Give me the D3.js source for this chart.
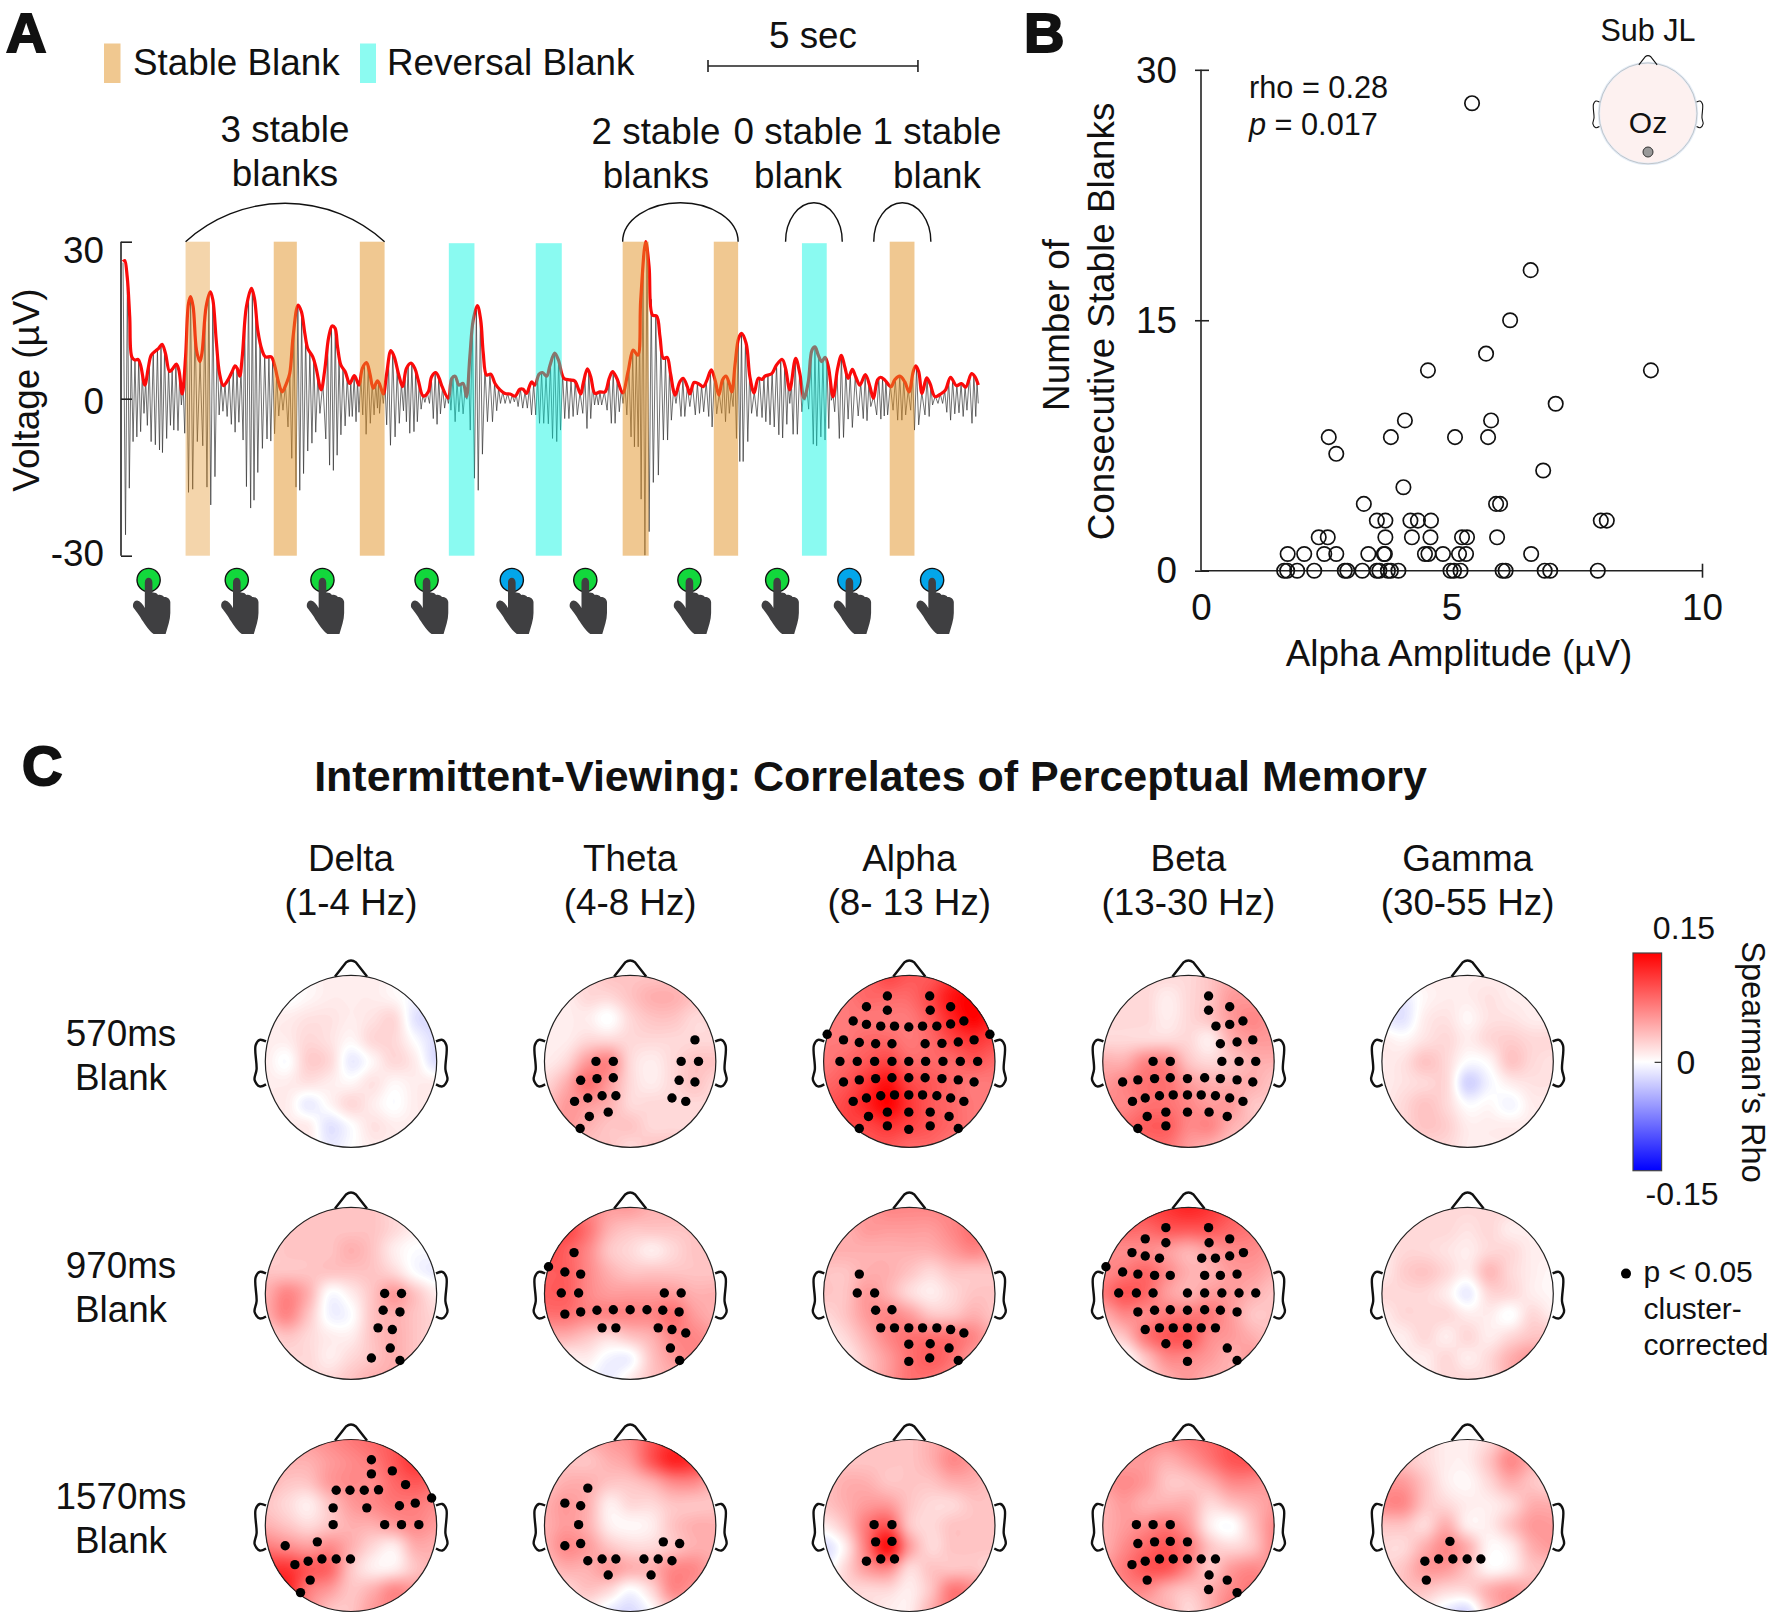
<!DOCTYPE html>
<html><head><meta charset="utf-8">
<script src="https://cdn.jsdelivr.net/npm/d3@7"></script>
<style>
html,body{margin:0;padding:0;background:#fff}
svg{display:block}
text{font-family:"Liberation Sans",Arial,sans-serif;fill:#111}
</style></head><body>
<svg id="fig" width="1770" height="1615" viewBox="0 0 1770 1615"></svg>
<script>
// ---------- Panel A data ----------
// red amplitude envelope: [seconds, microvolts]
const envelope = [[0,26.2],[.04,26.4],[.1,23.3],[.16,15.7],[.21,8],[.28,7.4],[.36,7.5],[.42,6.4],[.52,2.6],[.6,5.8],[.67,8.3],[.77,9.1],[.85,9.6],[.93,10.4],[1.01,8.7],[1.11,5.2],[1.19,5.8],[1.27,6.6],[1.33,5.5],[1.41,.9],[1.49,8],[1.56,18.2],[1.61,19.5],[1.67,17.6],[1.75,9.3],[1.83,7.1],[1.88,8.7],[1.98,17.6],[2.08,20.4],[2.14,18.9],[2.22,11.2],[2.3,4.8],[2.39,2.5],[2.5,3.6],[2.6,5.2],[2.67,6.3],[2.72,5.8],[2.78,4.3],[2.84,8],[2.94,17.6],[3.06,21.1],[3.13,19.2],[3.21,13.1],[3.31,9.3],[3.39,8],[3.53,8],[3.61,6.4],[3.69,3.6],[3.79,1.3],[3.89,2.9],[3.97,4.8],[4.05,11.8],[4.17,17.9],[4.25,16.6],[4.33,12.5],[4.4,9.6],[4.52,8],[4.6,5.8],[4.72,1.7],[4.8,5.2],[4.9,11.8],[4.98,13.9],[5.05,13.5],[5.11,9.9],[5.19,6.4],[5.29,5.2],[5.4,2.9],[5.51,4.4],[5.62,2.6],[5.7,5.8],[5.8,6.9],[5.88,4.8],[5.96,2],[6.06,3.4],[6.12,2.6],[6.2,.9],[6.28,4.8],[6.38,9.2],[6.46,8],[6.56,4.8],[6.66,2.3],[6.75,5.8],[6.86,6.8],[6.95,5.8],[7.03,3.6],[7.15,.5],[7.27,1.3],[7.35,4.2],[7.45,5],[7.53,3.9],[7.6,2.3],[7.75,.1],[7.83,3.9],[7.91,4.3],[8,2.6],[8.1,2.9],[8.18,.4],[8.26,8],[8.34,15],[8.44,17.8],[8.52,15],[8.58,8.7],[8.66,4.5],[8.76,4.7],[8.86,2.9],[8.98,1.7],[9.1,1],[9.22,.9],[9.34,.5],[9.45,1.8],[9.53,1.8],[9.61,1],[9.73,3.2],[9.81,2.6],[9.91,4.7],[9.99,5],[10.09,4.3],[10.17,6.4],[10.28,8.7],[10.37,7.4],[10.5,3.9],[10.64,3.6],[10.76,3.4],[10.9,.9],[10.96,2.9],[11.06,5.7],[11.14,4.2],[11.24,1],[11.36,1.3],[11.48,1.3],[11.58,3.9],[11.66,5.2],[11.76,3.9],[11.9,1.1],[12.03,5.2],[12.15,9.3],[12.26,8.3],[12.33,18.9],[12.45,30],[12.53,25.2],[12.61,16],[12.71,15.8],[12.79,11.8],[12.87,7.7],[12.96,7.9],[13.04,4.8],[13.15,.7],[13.26,3.2],[13.34,3.9],[13.44,2.3],[13.5,.9],[13.6,3.1],[13.7,2.9],[13.82,2.3],[13.91,3.6],[14.01,5.5],[14.1,3.6],[14.19,.7],[14.28,3.6],[14.36,4.3],[14.44,2.9],[14.5,1.3],[14.58,6.8],[14.66,11.5],[14.73,12.5],[14.84,10.6],[14.93,4.2],[15.03,1.1],[15.13,3.9],[15.22,3.7],[15.29,4.3],[15.45,4.8],[15.56,6.4],[15.7,7.5],[15.78,5.8],[15.88,1.7],[16.02,7.7],[16.12,4.8],[16.22,.1],[16.32,3.2],[16.41,9.3],[16.48,9.9],[16.56,8.3],[16.64,7.1],[16.72,7.9],[16.8,6.1],[16.91,.4],[17.02,5.8],[17.11,8.3],[17.19,6.1],[17.27,3.9],[17.37,5.6],[17.45,4.2],[17.55,2.6],[17.68,4.6],[17.79,2.3],[17.87,.1],[17.97,3.6],[18.04,4.1],[18.14,3.6],[18.29,2.3],[18.38,3.6],[18.5,4.3],[18.62,3.2],[18.72,1.3],[18.82,5.2],[18.88,6.3],[18.95,5.2],[19.03,1],[19.14,4],[19.22,2.9],[19.34,.4],[19.49,1],[19.59,1.7],[19.71,4.1],[19.85,2.5],[19.97,2.9],[20.07,2.2],[20.21,4.8],[20.29,4.2],[20.37,2.6]];
// grey alpha trace, cycle by cycle: [trough time, trough µV, following peak µV]
const alphaCycles = [[.06,-26,23.3],[.15,-17.1,9],[.24,-8.2,7.4],[.33,-7.3,7.5],[.42,-6.3,5],[.5,-2.8,3.5],[.58,-5.1,6.5],[.67,-8.2,8.8],[.77,-8.8,9.4],[.87,-9.8,10],[.94,-10.3,9.2],[1.04,-7.6,6],[1.13,-5.1,5.5],[1.21,-6,6.5],[1.31,-6.1,4.5],[1.39,-1.2,3],[1.47,-6.6,12],[1.56,-17.9,19.5],[1.66,-17.3,14],[1.77,-8.2,7.1],[1.9,-9,15],[2,-16.9,20],[2.09,-20.3,19],[2.19,-14.9,10],[2.29,-3.1,3.5],[2.38,-2.4,2.8],[2.48,-3.4,4],[2.58,-4.9,5.5],[2.67,-6.4,6],[2.76,-4.5,5.5],[2.86,-7.9,14],[2.94,-16.8,20],[3.04,-20.9,20.5],[3.12,-19.4,16],[3.21,-14.1,11],[3.32,-9.5,8.3],[3.43,-7.7,8],[3.52,-8.1,7.4],[3.61,-6.7,4.5],[3.71,-3.3,2],[3.81,-2.2,2.6],[3.93,-5.4,4.8],[4.02,-11.4,13],[4.12,-16.9,17.8],[4.21,-17.5,16.6],[4.3,-14.3,12],[4.4,-10,9],[4.5,-8.5,7.5],[4.59,-6.4,4.5],[4.69,-2.8,3],[4.83,-7.7,10],[4.92,-12.7,13.5],[5.01,-13.7,13.5],[5.1,-10.8,8],[5.19,-6.9,5.8],[5.29,-5.2,4.2],[5.39,-3.4,3.2],[5.46,-3.4,4.3],[5.55,-4.4,3.5],[5.62,-2.6,4],[5.71,-3.1,6.5],[5.79,-6.8,6],[5.89,-4.7,3],[5.98,-3.1,2.8],[6.06,-1.8,3.2],[6.11,-2.8,2],[6.2,-.9,2.8],[6.28,-5,7],[6.37,-8.9,9],[6.48,-7.3,5.8],[6.58,-4.7,3],[6.68,-2.3,4.2],[6.75,-4.4,6.5],[6.83,-6.6,6.6],[6.93,-6.3,5.2],[7.01,-4.4,3],[7.1,-2,.8],[7.19,-.7,1.2],[7.3,-.9,3.8],[7.39,-3.8,4.9],[7.48,-4.9,4],[7.56,-2.9,2.2],[7.66,-1.8,.8],[7.75,-.9,1.5],[7.81,-2.2,4.1],[7.91,-4.4,3.5],[8,-2.5,2.8],[8.1,-2.9,1.5],[8.19,-.1,5.5],[8.27,-6,13.5],[8.37,-15.2,17],[8.46,-17.5,15.5],[8.56,-10.6,6],[8.68,-4.4,4.7],[8.8,-4.4,3],[8.9,-2.3,2],[8.99,-.9,1.3],[9.1,-.9,1],[9.22,-.9,.7],[9.32,-.6,.8],[9.41,-1.5,1.8],[9.52,-1.8,1.4],[9.63,-1.8,2.2],[9.73,-3.1,2.8],[9.83,-3.1,3.8],[9.92,-4.7,4.9],[10.02,-4.7,4.5],[10.13,-4.8,6.5],[10.23,-7.6,8.7],[10.33,-8.2,7.4],[10.42,-6,4.8],[10.52,-3.8,3.7],[10.62,-3.8,3.5],[10.72,-3.4,3.3],[10.82,-3.1,1.2],[10.95,-2.8,4.3],[11.05,-5.7,5.2],[11.14,-3.8,2.8],[11.23,-1.2,1],[11.32,-1.2,1.3],[11.4,-1.2,1.3],[11.53,-2.2,3.9],[11.63,-4.7,5.1],[11.72,-4.7,3.8],[11.82,-2.5,1.8],[11.91,-.9,2.5],[12,-3.1,6],[12.1,-7.3,9],[12.18,-9.2,8.8],[12.27,-9.2,14],[12.34,-19.2,24],[12.43,-29.9,29.5],[12.53,-25.4,19],[12.63,-16,15.8],[12.75,-14.6,10.5],[12.87,-7.9,7.8],[12.97,-7.9,5.5],[13.06,-4.1,2],[13.17,-.9,2.6],[13.29,-3.4,3.8],[13.38,-3.4,2.3],[13.5,-1.5,2.5],[13.63,-3.1,2.9],[13.73,-2.8,2.5],[13.83,-2.5,3.2],[13.95,-3.4,5.2],[14.03,-5.4,4.2],[14.14,-2.9,1],[14.26,-2.8,3.8],[14.35,-4.4,3.8],[14.44,-2.8,1.5],[14.53,-1.5,6.2],[14.61,-7.6,11],[14.69,-12,12.5],[14.77,-12,11],[14.88,-8.2,5],[14.97,-2.8,1.3],[15.1,-3.4,3.9],[15.22,-3.6,4],[15.31,-4.4,4.5],[15.41,-5,4.9],[15.51,-5.4,6.4],[15.62,-6.9,7.3],[15.71,-7.5,6.2],[15.81,-4.9,3],[15.88,-.9,3],[15.96,-6.8,7.5],[16.06,-6.8,5],[16.17,-2.5,.8],[16.24,-.3,2],[16.33,-2,7.5],[16.44,-8.7,9.9],[16.52,-9,8],[16.62,-7.3,7.3],[16.72,-7.9,7],[16.81,-5.7,4],[16.87,-.3,.8],[16.95,-2.5,5],[17.06,-7.6,8.2],[17.16,-7.4,5.5],[17.27,-3.9,4.8],[17.37,-5.5,4.3],[17.51,-3.3,3],[17.63,-3.8,4.5],[17.72,-4.2,3],[17.81,-1.5,.5],[17.95,-3.1,3.8],[18.05,-3.9,3.8],[18.13,-3.3,3.4],[18.21,-3.1,2.5],[18.34,-2.2,3.6],[18.45,-4.1,4.3],[18.55,-4.1,3.5],[18.64,-3.1,1.7],[18.76,-2.2,4.5],[18.85,-6,6],[18.95,-5,1.2],[19.1,-3.1,3.9],[19.2,-3.4,2.5],[19.28,-1.2,.5],[19.41,-.9,.9],[19.52,-.9,1.5],[19.62,-2.6,3.3],[19.71,-4.1,3.5],[19.81,-2.9,2.6],[19.91,-2.7,2.9],[20.01,-3.4,2.3],[20.1,-2.2,4.5],[20.22,-4.7,4.4],[20.31,-3.4,3],[20.37,-.9,2]];
const stableBlanks = [[1.49,2.07,.38],[3.59,4.14,.5],[5.64,6.23,.5],[11.9,12.52,.5],[14.07,14.65,.5],[18.26,18.85,.5]];
const reversalBlanks = [[7.76,8.37],[9.83,10.45],[16.17,16.76]];
const buttonTimes = [.61,2.71,4.75,7.23,9.26,11.01,13.49,15.58,17.3,19.27];
const buttonKinds = ["g","g","g","g","b","g","g","g","b","b"];
const arcSpans = [[1.49,6.23],[11.9,14.65],[15.78,17.13],[17.88,19.24]];
const voltTicks = [-30,0,30];

// ---------- Panel B data ----------
const alphaAmp = [5.41,6.58,6.17,5.69,4.53,8.98,7.08,4.07,5.79,2.55,3.79,5.07,5.73,2.7,6.83,4.04,3.25,5.89,5.97,3.51,3.68,4.18,4.33,4.59,7.98,8.1,2.35,2.53,3.68,4.21,4.58,5.21,5.31,5.91,1.73,2.06,2.46,2.7,3.34,3.65,3.67,4.47,4.54,4.83,5.15,5.29,6.59,1.66,1.72,1.92,2.26,2.87,2.92,3.22,3.51,3.56,3.73,3.79,3.94,4.98,5.05,5.18,6.02,6.08,6.86,6.97,7.92];
const stableCount = [28,18,15,13,12,12,10,9,9,8,8,8,8,7,6,5,4,4,4,3,3,3,3,3,3,3,2,2,2,2,2,2,2,2,1,1,1,1,1,1,1,1,1,1,1,1,1,0,0,0,0,0,0,0,0,0,0,0,0,0,0,0,0,0,0,0,0];

// ---------- Panel C data ----------
const bands = ["Delta","Theta","Alpha","Beta","Gamma"];
const bandRanges = ["(1-4 Hz)","(4-8 Hz)","(8- 13 Hz)","(13-30 Hz)","(30-55 Hz)"];
const blanks = ["570ms","970ms","1570ms"];
// rho × 100 on a 9 × 9 lattice over each scalp
const rhoMaps = [
 [[1.2,1.2,.6,1.2,1.2,1.2,.6,0,0],[1.2,0,.6,1.2,1.2,1.2,.6,-.5,-.5],[1.2,1.2,1.8,1.8,1.2,1.8,2.4,-1.5,-2],[1.2,1.2,2.4,1.8,.6,2.4,2.4,0,-2],[1.2,0,3,2.4,-1,.6,2.4,1.2,-2],[1.2,1.2,1.8,1.2,.6,1.8,.6,1.2,1.2],[1.2,1.2,-1,.6,2.4,1.2,0,1.2,1.2],[1.2,1.2,1.2,-1.5,0,1.8,1.2,1.2,1.2],[1.2,1.2,1.2,-1,0,1.2,1.2,1.2,1.2]],
 [[2.4,2.4,2.4,3.6,3.6,3.6,3.6,2.4,2.4],[1.2,1.2,2.4,2.4,3.6,4.8,4.8,3.6,2.4],[1.2,1.2,1.2,0,2.4,3.6,3.6,2.4,2.4],[1.2,1.2,2.4,2.4,2.4,2.4,2.4,2.4,2.4],[1.2,2.4,6,7.2,2.4,1.2,2.4,3.6,3.6],[2.4,4.8,8.4,6,2.4,1.2,2.4,3.6,2.4],[3.6,6,6,4.8,2.4,2.4,2.4,2.4,2.4],[3.6,6,4.8,3.6,3.6,2.4,2.4,2.4,2.4],[3.6,4.8,3.6,3.6,2.4,3.6,3.6,2.4,2.4]],
 [[9,9,9,11,10,10,12,13,13],[8,8,9,9,9,11,14,15,13],[8,8,8,8,8,10,13,15,13],[8,8,9,9,8,9,11,12,11],[8,9,10,11,9,9,9,10,9],[9,10,12,14,11,10,9,8,8],[10,11,13,15,12,10,9,8,8],[10,11,11,12,11,10,9,8,8],[10,10,10,10,9,9,8,8,8]],
 [[2.4,2.4,2.4,2.4,2.4,3.6,4.8,4.8,4.8],[2.4,2.4,2.4,1.2,2.4,3.6,6,6,6],[2.4,2.4,2.4,1.2,2.4,3.6,6,7.2,6],[2.4,2.4,2.4,2.4,2.4,1.2,4.8,6,6],[4.8,4.8,7.2,7.2,3.6,2.4,3.6,4.8,4.8],[6,7.2,8.4,8.4,6,4.8,4.8,4.8,3.6],[7.2,7.2,8.4,8.4,7.2,6,6,3.6,3.6],[7.2,8.4,9.6,9.6,7.2,7.2,4.8,3.6,2.4],[7.2,8.4,8.4,8.4,6,4.8,3.6,2.4,2.4]],
 [[1.2,1.2,1.2,1.2,1.2,1.2,1.2,1.2,1.2],[-1,-1,.6,1.2,1.2,1.8,1.2,1.2,1.2],[-1,-1.5,1.2,1.8,.6,1.8,1.8,1.2,1.2],[1.2,.6,1.8,2.4,1.2,2.4,3,2.4,2.4],[1.2,1.8,3.6,2.4,0,.6,3.6,2.4,1.8],[1.2,1.8,2.4,2.4,-2.5,-.5,1.2,1.8,1.8],[1.2,2.4,3.6,2.4,0,.5,-.5,1.2,1.2],[1.2,2.4,3.6,3,1.2,1.2,1.2,1.2,1.2],[1.2,2.4,2.4,2.4,1.2,1.2,1.2,1.2,1.2]],
 [[3.6,3.6,3.6,3.6,3.6,3.6,2.4,2.4,2.4],[2.4,3.6,3.6,3.6,3.6,3.6,2.4,1.2,1.2],[2.4,3.6,3.6,3.6,4.8,3.6,1.2,0,0],[3.6,3.6,3.6,3.6,3.6,3.6,2.4,0,-1],[4.8,7.2,4.8,0,1.2,3.6,6,3.6,1.2],[4.8,7.2,3.6,-.5,0,3.6,4.8,3.6,2.4],[2.4,3.6,2.4,1.2,1.2,3.6,4.8,3.6,2.4],[2.4,2.4,2.4,1.2,2.4,3.6,4.8,3.6,2.4],[2.4,2.4,2.4,2.4,3.6,4.8,4.8,3.6,2.4]],
 [[7.2,7.2,7.2,6,6,4.8,4.8,3.6,3.6],[9.6,10.8,8.4,4.8,3.6,3.6,3.6,3.6,3.6],[10.8,9.6,7.2,3.6,2.4,1.2,2.4,3.6,3.6],[9.6,9.6,7.2,4.8,3.6,3.6,3.6,3.6,3.6],[9.6,9.6,7.2,6,6,6,6,4.8,4.8],[8.4,8.4,7.2,7.2,7.2,7.2,8.4,6,4.8],[4.8,4.8,3.6,2.4,3.6,4.8,7.2,7.2,6],[2.4,1.2,1.2,-.5,-.5,3.6,6,7.2,6],[1.2,1.2,0,-1,1.2,3.6,4.8,4.8,4.8]],
 [[6,6,6,7.2,7.2,7.2,7.2,6,6],[4.8,4.8,6,6,6,6,7.2,8.4,7.2],[4.8,4.8,4.8,4.8,4.8,4.8,6,7.2,6],[3.6,3.6,4.8,4.8,3.6,2.4,3.6,3.6,3.6],[3.6,3.6,6,4.8,2.4,1.2,2.4,3.6,3.6],[2.4,3.6,6,7.2,6,3.6,3.6,4.8,3.6],[1.2,2.4,4.8,7.2,8.4,8.4,8.4,7.2,4.8],[1.2,1.2,3.6,6,8.4,9.6,8.4,6,4.8],[1.2,1.2,3.6,6,8.4,8.4,7.2,6,4.8]],
 [[9,10,11,12,13,12,10,8,7],[8,9,9,10,10,10,9,8,6],[7,7,7,6,4.8,6,7,7,6],[7,8,9,7,4.8,4.8,6,6,4.8],[8,10,9,6,4.8,6,6,4.8,3.6],[4.8,7,7,8,8,8,6,3.6,3.6],[2.4,3.6,8,10,10,7,6,4.8,3.6],[1.2,0,3.6,7,7,6,4.8,6,3.6],[1.2,0,2.4,4.8,6,4.8,4.8,4.8,3.6]],
 [[2.4,2.4,2.4,2.4,2.4,2.4,2.4,1.2,1.2],[1.2,2.4,2.4,2.4,1.8,2.4,1.2,1.2,1.2],[1.2,2.4,2.4,1.8,1.2,2.4,2.4,1.2,1.2],[1.2,3,3.6,2.4,1.2,4.2,2.4,1.2,.6],[2.4,2.4,2.4,1.2,-1,2.4,2.4,1.2,.6],[1.2,2.4,2.4,2.4,1.2,1.2,0,2.4,1.2],[1.2,1.2,2.4,1.2,2.4,1.2,2.4,3.6,3.6],[1.2,1.2,1.2,2.4,1.2,2.4,4.8,6,3.6],[1.2,1.2,1.2,2.4,2.4,2.4,4.8,4.8,3.6]],
 [[6,6,6,7,8,9,10,11,10],[4.8,4.8,4.8,6,7,8,10,12,11],[4.8,3.6,3.6,6,7,7,9,10,9],[3.6,2.4,1.2,3.6,6,7,8,8,7],[4.8,3.6,2.4,3.6,4.8,4.8,6,7,6],[8,7,6,7,4.8,2.4,1.2,4.8,4.8],[12,12,10,9,3.6,1.2,1.2,3.6,4.8],[13,13,8,6,3.6,4.8,7,6,4.8],[11,11,7,3.6,3.6,6,7,6,4.8]],
 [[3.6,3.6,4.8,6,7,10,12,11,9],[3.6,3.6,3.6,4.8,6,10,13,12,9],[3.6,4.8,4.8,3.6,3.6,4.8,7,7,4.8],[4.8,6,4.8,1.2,2.4,2.4,3.6,3.6,3.6],[4.8,6,4.8,1.2,.6,1.2,3.6,4.8,4.8],[4.8,7,6,3.6,2.4,2.4,3.6,4.8,4.8],[3.6,4.8,4.8,6,4.8,4.8,7,7,4.8],[2.4,2.4,3.6,2.4,0,2.4,7,6,4.8],[1.2,1.2,1.2,-1,-2,0,3.6,3.6,3.6]],
 [[3.6,3.6,3.6,3.6,3.6,4.8,6,6,4.8],[3.6,3.6,3.6,3.6,3.6,4.8,7,6,4.8],[3.6,4.8,4.8,3.6,3.6,3.6,4.8,4.8,3.6],[3.6,4.8,6,6,3.6,2.4,2.4,3.6,3.6],[1.2,3.6,8,10,3.6,2.4,3.6,3.6,3.6],[-2,1.2,8,14,6,2.4,3.6,3.6,3.6],[-1,2.4,6,7,2.4,3.6,3.6,3.6,2.4],[1.2,2.4,2.4,2.4,1.2,3.6,8,7,4.8],[1.2,2.4,2.4,1.2,1.2,4.8,8,7,4.8]],
 [[7,7,7,7,8,9,10,9,8],[6,6,6,4.8,6,8,10,10,8],[6,7,6,3.6,3.6,4.8,7,7,6],[4.8,6,4.8,4.8,4.8,2.4,3.6,4.8,6],[4.8,6,7,8,6,1.2,0,3.6,7],[4.8,7,9,10,8,3.6,2.4,3.6,7],[6,8,10,10,7,3.6,6,7,6],[6,7,7,4.8,3.6,4.8,7,8,6],[6,6,4.8,4.8,2.4,4.8,8,8,6]],
 [[3.6,3.6,2.4,1.2,1.2,2.4,4.8,3.6,3.6],[3.6,3.6,2.4,1.2,1.2,3.6,7,4.8,3.6],[6,6,3.6,1.2,.6,2.4,4.8,3.6,2.4],[7,7,3.6,2.4,1.2,1.2,2.4,4.8,4.8],[3.6,3.6,2.4,4.8,1.2,1.2,3.6,6,6],[2.4,2.4,4.8,7,4.8,.6,1.2,4.8,6],[2.4,3.6,6,6,3.6,.6,1.2,3.6,3.6],[2.4,3.6,3.6,2.4,2.4,4.8,6,4.8,3.6],[2.4,2.4,1.2,-1,-2,3.6,6,4.8,3.6]]
];
// significant electrodes per scalp (row by row, band by band)
const sensors = [
 [],
 [[127,-50],[-67,0],[-33,0],[100,0],[134,0],[-97,44],[-65,40],[-33,38],[96,44],[127,48],[-109,93],[-83,85],[-55,80],[-28,80],[82,85],[109,93],[-80,128],[-43,118],[-98,156]],
 [[-43,-152],[40,-152],[-84,-127],[81,-127],[-43,-119],[41,-119],[-110,-94],[107,-94],[-84,-86],[-56,-82],[-29,-82],[-1,-80],[26,-82],[54,-82],[81,-87],[-161,-63],[158,-63],[-129,-50],[-98,-44],[-66,-41],[-34,-41],[31,-41],[64,-42],[96,-45],[127,-50],[-136,0],[-102,0],[-68,0],[-34,0],[-1,0],[32,0],[66,0],[100,0],[134,0],[-129,48],[-98,43],[-66,40],[-34,38],[-1,38],[31,38],[64,40],[96,43],[127,48],[-110,93],[-84,85],[-56,80],[-29,78],[-1,78],[26,78],[54,80],[81,85],[107,93],[-80,128],[-43,118],[-1,118],[41,118],[78,128],[-98,156],[-43,150],[-1,158],[41,150],[96,156]],
 [[41,-152],[41,-119],[84,-127],[56,-82],[84,-86],[111,-94],[65,-41],[99,-45],[131,-50],[-72,0],[-37,0],[68,0],[103,0],[137,0],[-134,48],[-103,43],[-69,40],[-37,38],[-2,40],[33,38],[65,40],[99,43],[131,48],[-114,93],[-88,85],[-59,80],[-31,78],[-2,78],[26,78],[55,80],[84,85],[111,93],[-84,128],[-46,118],[-2,118],[42,118],[79,128],[-103,156],[-46,150]],
 [],
 [[66,0],[99,0],[63,39],[96,43],[53,80],[81,84],[77,127],[40,150],[96,156]],
 [[-110,-95],[-160,-62],[-128,-50],[-97,-45],[-135,-1],[-101,-1],[67,-1],[100,-1],[-128,48],[-97,43],[-65,39],[-33,38],[0,38],[33,38],[64,39],[96,43],[-55,80],[-28,80],[55,80],[82,84],[109,92],[79,127],[97,156]],
 [[-98,-45],[-102,-1],[-68,-1],[-66,39],[-34,38],[-56,80],[-29,80],[-1,80],[26,80],[54,80],[81,84],[107,92],[-1,118],[41,117],[78,127],[-1,158],[40,150],[96,156]],
 [[-46,-153],[41,-153],[-88,-127],[84,-127],[-46,-118],[42,-118],[-115,-95],[112,-95],[-88,-87],[-59,-82],[27,-82],[55,-82],[84,-87],[-168,-62],[-134,-50],[-103,-45],[-69,-42],[-37,-42],[33,-42],[65,-42],[99,-45],[-142,-1],[-106,-1],[-72,-1],[-2,-1],[33,-1],[68,-1],[103,-1],[137,-1],[-103,43],[-69,39],[-37,38],[-2,39],[33,38],[65,39],[99,43],[-88,84],[-59,80],[-31,80],[-2,80],[26,80],[55,80],[-46,117],[-2,118],[79,127],[-2,158],[99,156]],
 [],
 [[40,-153],[40,-120],[81,-127],[107,-95],[-29,-82],[-2,-82],[26,-82],[54,-83],[158,-64],[-35,-41],[31,-41],[95,-46],[126,-52],[-35,-2],[66,-2],[99,-2],[133,-2],[-66,38],[-129,47],[-1,78],[-29,78],[-57,78],[-84,83],[-110,91],[-80,127],[-99,156]],
 [[-83,-87],[-128,-52],[-97,-46],[-101,-2],[-128,47],[-97,42],[65,38],[97,42],[-83,82],[-55,78],[-28,78],[27,78],[55,78],[82,82],[-43,115],[41,115]],
 [[-69,-2],[-34,-2],[-66,38],[-34,37],[-84,83],[-56,78],[-29,78]],
 [[-106,-2],[-72,-2],[-37,-2],[-103,42],[-69,38],[-37,37],[-2,38],[-115,91],[-88,83],[-59,78],[-31,78],[-2,78],[26,78],[55,78],[-84,127],[42,115],[79,127],[41,149],[99,156]],
 [[-36,37],[-87,83],[-59,78],[-30,78],[-1,78],[27,78],[-84,127]]
];
const sensorSpanX = [168,168,168,174.5,174.5];
const sensorSpanY = 200;
const rhoTicks = [0];

// ---------- Drawing ----------
const svg = d3.select("#fig");
const label = (sel, str, x, y, size, opts={}) => {
  const t = sel.append("text").attr("x",x).attr("y",y).attr("font-size",size).text(str);
  if (opts.anchor) t.attr("text-anchor",opts.anchor);
  if (opts.weight) t.attr("font-weight",opts.weight);
  if (opts.rotate!==undefined) t.attr("transform",`rotate(${opts.rotate} ${x} ${y})`);
  return t;
};
const FS = 36.8;
[["A",6,52],["B",1024,52],["C",22,785]].forEach(p=>
  label(svg,p[0],p[1],p[2],56,{weight:"bold"}).attr("stroke","#111").attr("stroke-width",2));

// Panel A
const tx = d3.scaleLinear().domain([0,20.37]).range([123,978.3]);
const vy = d3.scaleLinear().domain([-30,30]).range([555.7,241.7]);
const A = svg.append("g");

// grey trace
const greyPts = [[0,26]];
alphaCycles.forEach((c,i)=>{
  greyPts.push([c[0],c[1]]);
  const next = alphaCycles[i+1];
  if (next) greyPts.push([(c[0]+next[0])/2,c[2]]);
});
A.append("path").attr("d",d3.line().x(d=>tx(d[0])).y(d=>vy(d[1]))(greyPts))
  .attr("fill","none").attr("stroke","#333").attr("stroke-width",.7).attr("stroke-linejoin","round");
A.append("path").attr("d",d3.line().curve(d3.curveCatmullRom.alpha(.5)).x(d=>tx(d[0])).y(d=>vy(d[1]))(envelope))
  .attr("fill","none").attr("stroke","#fb0a0a").attr("stroke-width",3.2);

// blanks over the trace
A.selectAll(".st").data(stableBlanks).join("rect").attr("class","st")
  .attr("x",d=>tx(d[0])).attr("width",d=>tx(d[1])-tx(d[0])).attr("y",vy(30)).attr("height",vy(-30)-vy(30))
  .attr("fill","rgb(225,145,35)").attr("opacity",d=>d[2]);
A.selectAll(".rv").data(reversalBlanks).join("rect").attr("class","rv")
  .attr("x",d=>tx(d[0])).attr("width",d=>tx(d[1])-tx(d[0])).attr("y",vy(30)+1.5).attr("height",vy(-30)-vy(30)-1.5)
  .attr("fill","rgb(0,245,225)").attr("opacity",.46);

// y axis
const voltLabelShift = new Map([[30,8],[0,2],[-30,-3.5]]);
const ax = A.append("g").attr("transform",`translate(${tx(0)-2},0)`)
  .call(d3.axisRight(vy).tickValues(voltTicks).tickSize(11).tickFormat(d=>String(d)));
ax.select(".domain").attr("stroke","#222").attr("stroke-width",1.6).attr("d",`M0,${vy(30)}V${vy(-30)}`);
ax.selectAll("line").attr("stroke","#222").attr("stroke-width",1.6);
ax.selectAll("text").attr("x",-17).attr("y",d=>voltLabelShift.get(d)).attr("dy","0.36em").attr("text-anchor","end").attr("font-size",FS).attr("font-family",null);
label(A,"Voltage (µV)",39,390,FS,{anchor:"middle",rotate:-90});

// legend + scale bar
A.append("rect").attr("x",104).attr("y",43.5).attr("width",16.5).attr("height",39.5).attr("fill","#f0c890");
label(A,"Stable Blank",133,75,FS);
A.append("rect").attr("x",360).attr("y",43.5).attr("width",16).attr("height",39.5).attr("fill","#8cfbf1");
label(A,"Reversal Blank",387,75,FS);
const sb = d3.scaleLinear().domain([0,5]).range([708,708+(tx(5)-tx(0))]);
A.append("path").attr("d",`M${sb(0)},60V72M${sb(0)},66H${sb(5)}M${sb(5)},60V72`).attr("fill","none").attr("stroke","#222").attr("stroke-width",1.6);
label(A,"5 sec",813,48,FS,{anchor:"middle"});

// stable-run annotations
[["3 stable","blanks",285,142],["2 stable","blanks",656,144],["0 stable","blank",798,144],["1 stable","blank",937,144]].forEach(a=>{
  label(A,a[0],a[2],a[3],FS,{anchor:"middle"});
  label(A,a[1],a[2],a[3]+44,FS,{anchor:"middle"});
});
const baseY = vy(30);
arcSpans.forEach((s,i)=>{
  const x0=tx(s[0]),x1=tx(s[1]),w=(x1-x0)/2;
  const d = i===0 ? `M${x0},${baseY}A148,148 0 0 1 ${x1},${baseY}` : `M${x0},${baseY}A${w},39 0 0 1 ${x1},${baseY}`;
  A.append("path").attr("d",d).attr("fill","none").attr("stroke","#111").attr("stroke-width",1.4);
});

// button presses
const handPath = "M-3.8,2.5C-3.8,-3.8 3.8,-3.8 3.8,2.5L3.8,12.5C6,12.3 8.5,13 9.5,15C12,14.3 14.5,15.5 15.3,17C18,16.7 21.5,18.5 21.7,22L21.7,33C21.7,40 19,47 17,54L5,54C0.5,51 -3,45 -7,39.5C-10,34 -11.5,32.5 -15,28C-16.5,25.5 -15.3,20.5 -11.5,20.5C-8.5,21 -5.8,24 -3.8,28Z";
buttonTimes.forEach((t,i)=>{
  const g = A.append("g").attr("transform",`translate(${tx(t)},580)`);
  g.append("circle").attr("r",11.6).attr("fill",buttonKinds[i]==="g"?"#12d83c":"#03a6ea").attr("stroke","#111").attr("stroke-width",1.4);
  g.append("path").attr("d",handPath).attr("fill","#3f3f41");
});

// Panel B
const bx = d3.scaleLinear().domain([0,10]).range([1201,1702]);
const by = d3.scaleLinear().domain([0,30]).range([570.7,69.8]);
const B = svg.append("g");
const bxA = B.append("g").attr("transform",`translate(0,${by(0)})`).call(d3.axisBottom(bx).tickValues([0,5,10]).tickSize(7).tickFormat(d3.format("d")));
bxA.select(".domain").attr("d",`M${bx(0)},0H${bx(10)}`).attr("stroke","#222").attr("stroke-width",1.6);
bxA.selectAll("line").attr("y1",d=>d===10?-7:0).attr("y2",d=>d===10?7:0).attr("stroke","#222").attr("stroke-width",1.6);
bxA.selectAll("text").attr("y",49.5).attr("dy",0).attr("font-size",FS).attr("font-family",null);
const byA = B.append("g").attr("transform",`translate(${bx(0)},0)`).call(d3.axisRight(by).tickValues([0,15,30]).tickSize(8).tickFormat(d3.format("d")));
byA.select(".domain").attr("d",`M0,${by(30)}V${by(0)}`).attr("stroke","#222").attr("stroke-width",1.6);
byA.selectAll("line").attr("x1",-6).attr("stroke","#222").attr("stroke-width",1.6);
byA.selectAll("text").attr("x",-24).attr("y",-1).attr("dy","0.36em").attr("text-anchor","end").attr("font-size",FS).attr("font-family",null);
B.selectAll(".pt").data(alphaAmp).join("circle").attr("class","pt")
  .attr("cx",d=>bx(d)).attr("cy",(d,i)=>by(stableCount[i])).attr("r",7.2)
  .attr("fill","none").attr("stroke","#111").attr("stroke-width",1.7);
label(B,"Number of",1069,325,FS,{anchor:"middle",rotate:-90});
label(B,"Consecutive Stable Blanks",1114,321.5,FS,{anchor:"middle",rotate:-90});
label(B,"Alpha Amplitude (µV)",1459,666,FS,{anchor:"middle"});
label(B,"rho = 0.28",1249,98,30.7);
const pT = label(B,"",1249,134.5,30.7);
pT.append("tspan").attr("font-style","italic").text("p");
pT.append("tspan").text(" = 0.017");
label(B,"Sub JL",1648,41,30.5,{anchor:"middle"});

// head outline, drawn in unit coordinates for rx = 85.7
const earL = [[-85,-20],[-91.3,-21.5],[-95.4,-16],[-94.4,7.7],[-96.4,18.5],[-91.3,25],[-85,23]];
const earLine = d3.line().curve(d3.curveCatmullRom.alpha(.5));
function headParts(g, cx, cy, k, sw){
  const n = g.append("g").attr("transform",`translate(${cx},${cy}) scale(${k})`).attr("fill","none").attr("stroke","#111").attr("stroke-width",sw/k).attr("stroke-linejoin","round");
  n.append("path").attr("d","M-16,-85L-5,-99Q0,-103 5,-99L16,-85");
  n.append("path").attr("d",earLine(earL));
  n.append("path").attr("d",earLine(earL.map(p=>[-p[0],p[1]])));
}
// small Oz inset
B.append("ellipse").attr("cx",1648).attr("cy",113.4).attr("rx",49).attr("ry",50.5).attr("fill","#fdf1f0").attr("stroke","#e4edf7").attr("stroke-width",2.4);
B.append("ellipse").attr("cx",1648).attr("cy",113.4).attr("rx",49).attr("ry",50.5).attr("fill","none").attr("stroke","#9a9a9a").attr("stroke-width",.5);
headParts(B,1648,113.4,49/85.7,1.1);
label(B,"Oz",1648,133,30,{anchor:"middle"});
B.append("circle").attr("cx",1648).attr("cy",152).attr("r",5).attr("fill","#999").attr("stroke","#333").attr("stroke-width",1);

// Panel C
const C = svg.append("g");
label(C,"Intermittent-Viewing: Correlates of Perceptual Memory",870.5,791,43,{anchor:"middle",weight:"bold"});
const colX = d3.scalePoint().domain(bands).range([351,1467.6]);
const rowY = d3.scalePoint().domain(blanks).range([1061.4,1525.5]);
const rhoColor = d3.scaleLinear().domain([-15,0,15]).range(["#0000ff","#ffffff","#ff0000"]).clamp(true);
bands.forEach((b,i)=>{
  label(C,b,colX(b),871,FS,{anchor:"middle"});
  label(C,bandRanges[i],colX(b),915,FS,{anchor:"middle"});
});
const rowBase = [1046,1278,1509];
blanks.forEach((b,i)=>{
  label(C,b,121,rowBase[i],FS,{anchor:"middle"});
  label(C,"Blank",121,rowBase[i]+44,FS,{anchor:"middle"});
});

// Catmull-Rom resampling of a lattice for contouring
const K = 8, RX = 85.7, RY = 86;
function resample(g){
  const n=g.length, N=(n-1)*K+1, out=new Float64Array(N*N);
  const cr=(a,b,c,d,t)=>.5*(2*b+(c-a)*t+(2*a-5*b+4*c-d)*t*t+(3*b-a-3*c+d)*t*t*t);
  const at=(r,c)=>g[Math.max(0,Math.min(n-1,r))][Math.max(0,Math.min(n-1,c))];
  for(let j=0;j<N;j++){
    const fy=j/K, r=Math.min(Math.floor(fy),n-2), ty=fy-r;
    for(let i=0;i<N;i++){
      const fx=i/K, c=Math.min(Math.floor(fx),n-2), tt=fx-c;
      const row=k=>cr(at(r+k,c-1),at(r+k,c),at(r+k,c+1),at(r+k,c+2),tt);
      out[j*N+i]=cr(row(-1),row(0),row(1),row(2),ty);
    }
  }
  return {N,out};
}
const thresholds = d3.range(-6,16,.25);
const geo = d3.geoPath();
blanks.forEach((bl,ri)=>{
  bands.forEach((bd,ci)=>{
    const id=ri*5+ci, cx=colX(bd), cy=rowY(bl);
    const g=C.append("g");
    svg.append("defs").append("clipPath").attr("id","hc"+id).append("ellipse").attr("cx",cx).attr("cy",cy).attr("rx",RX).attr("ry",RY);
    const {N,out}=resample(rhoMaps[id]);
    const sx=2*RX/(N-1), sy=2*RY/(N-1);
    const field=g.append("g").attr("clip-path",`url(#hc${id})`);
    field.append("rect").attr("x",cx-RX-1).attr("y",cy-RY-1).attr("width",2*RX+2).attr("height",2*RY+2).attr("fill",rhoColor(d3.min(out)));
    const lay=field.append("g").attr("transform",`translate(${cx-RX-.5*sx},${cy-RY-.5*sy}) scale(${sx},${sy})`);
    const min=d3.min(out);
    lay.selectAll("path").data(d3.contours().size([N,N]).thresholds(thresholds.filter(t=>t>min))(Array.from(out)))
      .join("path").attr("d",geo).attr("fill",d=>rhoColor(d.value));
    g.append("ellipse").attr("cx",cx).attr("cy",cy).attr("rx",RX).attr("ry",RY).attr("fill","none").attr("stroke","#222").attr("stroke-width",1.2);
    headParts(g,cx,cy,1,2.4);
    const sxS=d3.scaleLinear().domain([-sensorSpanX[ci],sensorSpanX[ci]]).range([cx-RX,cx+RX]);
    const syS=d3.scaleLinear().domain([-sensorSpanY,sensorSpanY]).range([cy-RY,cy+RY]);
    g.selectAll("circle").data(sensors[id]).join("circle").attr("cx",d=>sxS(d[0])).attr("cy",d=>syS(d[1])).attr("r",4.7).attr("fill","#000");
  });
});

// colour bar
const cbY = d3.scaleLinear().domain([-15,15]).range([1170.7,953]);
const grad = svg.append("defs").append("linearGradient").attr("id","cb").attr("x1",0).attr("x2",0).attr("y1",1).attr("y2",0);
d3.range(-15,15.1,3).forEach(v=>grad.append("stop").attr("offset",(v+15)/30).attr("stop-color",rhoColor(v)));
C.append("rect").attr("x",1633).attr("y",953).attr("width",28.6).attr("height",217.7).attr("fill","url(#cb)").attr("stroke","#444").attr("stroke-width",1.2);
const cbA = C.append("g").attr("transform","translate(1661.6,0)").call(d3.axisLeft(cbY).tickValues(rhoTicks).tickSize(7).tickFormat(d3.format("d")));
cbA.select(".domain").remove();
cbA.selectAll("line").attr("stroke","#333").attr("stroke-width",1.2);
cbA.selectAll("text").attr("x",15).attr("y",-1).attr("dy","0.36em").attr("text-anchor","start").attr("font-size",FS-3).attr("font-family",null);
label(C,"0.15",1684,939,32,{anchor:"middle"});
label(C,"-0.15",1682,1205,32,{anchor:"middle"});
label(C,"Spearman’s Rho",1742,1062,32.5,{anchor:"middle",rotate:90});
C.append("circle").attr("cx",1626).attr("cy",1273.6).attr("r",5).attr("fill","#000");
label(C,"p < 0.05",1643.5,1282,30);
label(C,"cluster-",1643.5,1319,30);
label(C,"corrected",1643.5,1354.5,30);
</script>
</body></html>
